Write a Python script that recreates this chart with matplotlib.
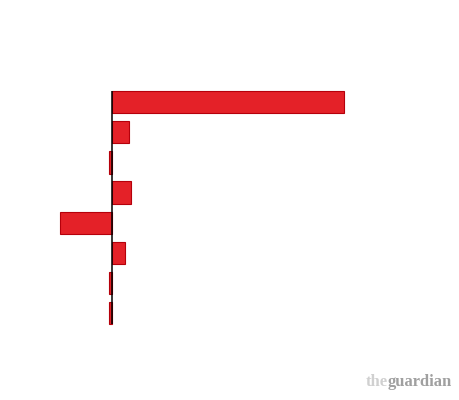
# --- 1. Import Libraries ---
import matplotlib
matplotlib.use("Agg")
import matplotlib.pyplot as plt

# --- 2. Data (one unit ~ one pixel) ---
categories = ["A", "B", "C", "D", "E", "F", "G", "H"]
values = [232, 17, -3, 19, -52, 13, -3, -3]

bar_color = "#e42128"
edge_color = "#b5000b"

# --- 3. Figure ---
fig = plt.figure(figsize=(4.6, 4.0), dpi=100)
# axes placed so that zero sits at x=112px and bars start at y~87px
ax = fig.add_axes([40 / 460, 0.18, 380 / 460, 240.8 / 400])

pos = list(range(len(categories)))
ax.barh(pos, values, height=0.74, color=bar_color,
        edgecolor=edge_color, linewidth=0.8, zorder=2)
ax.vlines(0, -0.37, len(categories) - 1 + 0.37, color="black",
          linewidth=1.1, zorder=3)

ax.set_xlim(-72, 308)
ax.set_ylim(len(categories) - 0.5, -0.5)
ax.axis("off")

# --- 4. Guardian logo ---
t = fig.text(366 / 460, 1 - 386 / 400, "the", color="#d0d0d0",
             fontsize=12, fontweight="bold", family="Liberation Serif")
fig.canvas.draw()
ax.annotate("guardian", xy=(0.98, 0), xycoords=t, va="bottom", ha="left",
            color="#a0a0a0", fontsize=12, fontweight="bold",
            family="Liberation Serif", annotation_clip=False)

fig.savefig("out.png", dpi=100)
